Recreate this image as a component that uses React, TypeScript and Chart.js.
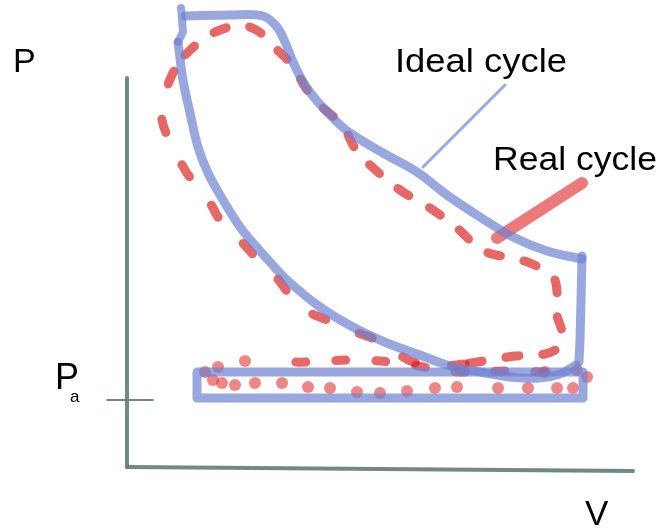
import React, { useEffect, useRef } from 'react';
import { Chart, registerables } from 'chart.js';

Chart.register(...registerables);

type Pt = [number, number];

// Values, in arbitrary V / P units (origin at axis corner)
const idealTopStroke: Pt[] = [[54, 459], [55, 447], [56, 435], [51, 425]];
const idealCompression: Pt[] = [
  [51, 425], [56, 387], [63, 354], [71, 320], [81, 294], [96, 267], [113, 240],
  [126, 224], [143, 205], [160, 187], [193, 160], [226, 140], [260, 124],
  [293, 112], [323, 101], [353, 95], [383, 90], [413, 89], [433, 93], [449, 102],
];
const idealExpansion: Pt[] = [
  [58, 451], [103, 452], [136, 451], [150, 440], [158, 425], [166, 405],
  [178, 382], [191, 365], [208, 347], [223, 334], [256, 314], [290, 295],
  [320, 272], [353, 250], [386, 230], [420, 216], [455, 208],
];
const idealExhaustDrop: Pt[] = [[455, 211], [454, 167], [453, 127], [452, 105]];
const idealPumpLoop: Pt[] = [[70, 95], [456, 95], [456, 69], [70, 69], [70, 95]];

const realCompression: Pt[] = [
  [338, 103], [313, 101], [286, 105], [270, 114], [258, 123], [245, 129],
  [223, 137], [200, 147], [180, 156], [163, 172], [150, 189], [135, 203],
  [113, 227], [93, 247], [83, 264], [71, 279], [58, 297], [45, 322], [35, 347],
  [38, 372], [45, 392], [58, 412],
];
const realExpansion: Pt[] = [
  [58, 412], [76, 428], [93, 437], [113, 442], [131, 436],
  [145, 422], [166, 401], [178, 380], [193, 362], [215, 342], [229, 317],
  [243, 302], [273, 277], [303, 259], [330, 239], [355, 217], [383, 209],
  [403, 204], [426, 190], [430, 175], [430, 152], [435, 135], [433, 121],
  [418, 113], [388, 111], [363, 107], [338, 103],
];
const realExhaust: Pt[] = [
  [418, 95], [383, 96], [343, 95], [320, 96], [273, 104], [228, 107],
  [183, 105], [151, 105],
];
const realDots: Pt[] = [
  [118, 106], [91, 100], [78, 95], [86, 87], [95, 84], [108, 82], [128, 84],
  [155, 84], [181, 80], [203, 79], [230, 75], [253, 74], [280, 76], [308, 79],
  [330, 80], [371, 79], [401, 79], [430, 79], [446, 79], [460, 90], [450, 97],
  [418, 95],
];

const axisP: Pt[] = [[0, 389], [0, 0]];
const axisV: Pt[] = [[0, 0], [506, -4]];
const tickPa: Pt[] = [[-20, 67], [26, 67]];
const pointerIdeal: Pt[] = [[296, 300], [378, 382]];
const pointerReal: Pt[] = [[370, 229], [455, 284]];

// Text labels: [text, V anchor, P anchor (baseline), font size, target width or 0]
const textLabels: [string, number, number, number, number][] = [
  ['P', -114, 395, 34, 0],
  ['P', -72, 78, 36, 0],
  ['a', -57, 65, 17, 0],
  ['V', 458, -58, 35, 0],
  ['Ideal cycle', 268, 395, 33, 172],
  ['Real cycle', 366, 297, 33, 164],
];

const BLUE = 'rgba(110,130,210,0.7)';
const RED = 'rgba(220,30,30,0.68)';
const RED_DOT = 'rgba(228,60,60,0.62)';
const AXIS = 'rgba(108,128,130,0.95)';

const toXY = (arr: Pt[]) => arr.map(([x, y]) => ({ x, y }));

function line(data: Pt[], color: string, width: number, extra: any = {}) {
  return {
    data: toXY(data),
    showLine: true,
    borderColor: color,
    backgroundColor: color,
    borderWidth: width,
    pointRadius: 0,
    borderCapStyle: 'round',
    borderJoinStyle: 'round',
    tension: 0.35,
    fill: false,
    clip: false,
    ...extra,
  };
}

const textPlugin = {
  id: 'sketchText',
  afterDatasetsDraw(chart: any) {
    const { ctx, scales } = chart;
    ctx.save();
    ctx.fillStyle = '#000';
    ctx.textBaseline = 'alphabetic';
    ctx.textAlign = 'left';
    for (const [t, v, p, size, w] of textLabels) {
      const px = scales.x.getPixelForValue(v);
      const py = scales.y.getPixelForValue(p);
      ctx.font = `${size}px "Liberation Sans", Arial, Helvetica, sans-serif`;
      const mw = ctx.measureText(t).width;
      const sx = w > 0 ? w / mw : 1;
      ctx.save();
      ctx.translate(px, py);
      ctx.scale(sx, 1);
      ctx.fillText(t, 0, 0);
      ctx.restore();
    }
    ctx.restore();
  },
};

export default function App() {
  const ref = useRef<HTMLCanvasElement | null>(null);
  useEffect(() => {
    if (!ref.current) return;
    const chart = new Chart(ref.current, {
      type: 'scatter',
      data: {
        datasets: [
          line(idealTopStroke, BLUE, 8, { tension: 0 }),
          line(idealExpansion, BLUE, 9),
          line(idealExhaustDrop, BLUE, 9, { tension: 0 }),
          line(idealCompression, BLUE, 9),
          line(idealPumpLoop, BLUE, 9, { tension: 0 }),
          line(pointerIdeal, 'rgba(120,140,215,0.75)', 3, { tension: 0 }),
          line(realCompression, RED, 9, { borderDash: [14, 36] }),
          line(realExpansion, RED, 9, { borderDash: [13, 24] }),
          line(realExhaust, RED, 9, { borderDash: [10, 30] }),
          {
            data: toXY(realDots),
            showLine: false,
            pointRadius: 6,
            pointBorderWidth: 0,
            pointBackgroundColor: RED_DOT,
            backgroundColor: RED_DOT,
            clip: false,
          },
          line(pointerReal, 'rgba(228,70,70,0.72)', 12, { tension: 0 }),
          line(axisP, AXIS, 4, { tension: 0 }),
          line(axisV, AXIS, 4, { tension: 0 }),
          line(tickPa, AXIS, 2, { tension: 0 }),
        ] as any,
      },
      options: {
        responsive: false,
        animation: false,
        events: [],
        layout: { padding: 0, autoPadding: false },
        plugins: { legend: { display: false }, tooltip: { enabled: false } },
        scales: {
          x: { type: 'linear', min: -127, max: 537, display: false },
          y: { type: 'linear', min: -62, max: 467, display: false },
        },
      },
      plugins: [textPlugin],
    });
    return () => chart.destroy();
  }, []);
  return (
    <div style={{ position: 'fixed', left: 0, top: 0, width: 664, height: 529, background: '#fff' }}>
      <canvas ref={ref} width={664} height={529} style={{ display: 'block', width: 664, height: 529 }} />
    </div>
  );
}
